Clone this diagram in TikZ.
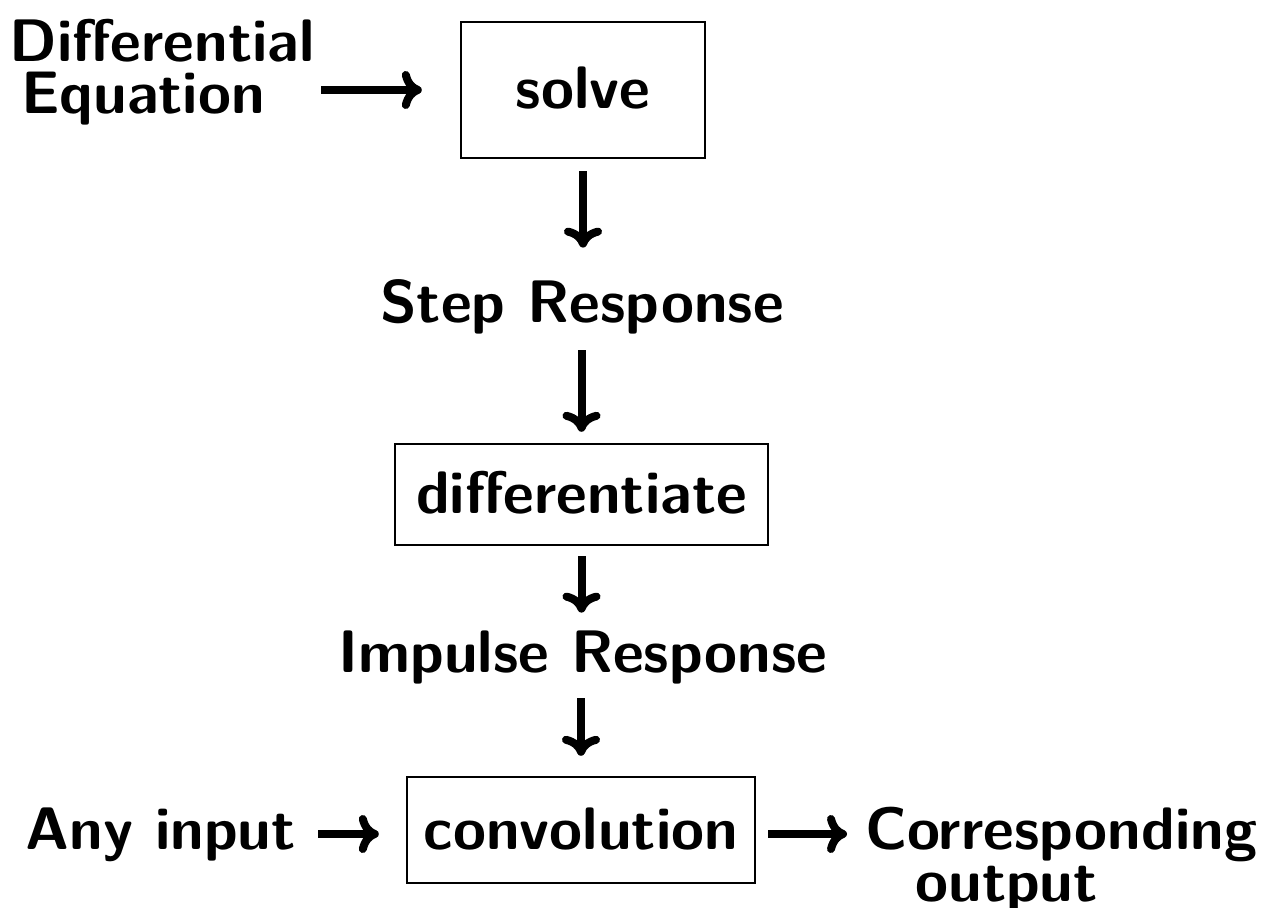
\documentclass[tikz,border=0pt]{standalone}
\usetikzlibrary{arrows.meta}
\begin{document}
\begin{tikzpicture}[x=0.5pt,y=-0.5pt,
  every node/.style={font=\sffamily\bfseries\fontsize{30}{26}\selectfont, inner sep=0pt},
  lbl/.style={text height=21pt, text depth=6pt},
  boxn/.style={draw, line width=1.2pt, text height=19pt, text depth=0pt},
  arr/.style={line width=4pt, -{Computer Modern Rightarrow[length=10pt,width=19pt]}}
]
\useasboundingbox (0,0) rectangle (1264,908);
% nodes
\node[anchor=north west, align=left] (de) at (9,18.4) {Differential\\\hspace*{6pt}Equation};
\node[boxn, minimum width=122pt, minimum height=68pt] (solve) at (583,90) {solve};
\node[lbl, anchor=base] (step) at (582,323) {Step Response};
\node[boxn, minimum width=186.5pt, minimum height=50.5pt] (diff) at (581.5,494.5) {differentiate};
\node[lbl, anchor=base] (imp) at (583,673) {Impulse Response};
\node[boxn, minimum width=174pt, minimum height=53pt] (conv) at (581,830) {convolution};
\node[lbl, anchor=base west] (any) at (25,849) {Any input};
\node[anchor=north west, align=left] (cor) at (865,806.4) {Corresponding\\\hspace*{25pt}output};
% connectors
\draw[arr, shorten <=3pt, shorten >=19pt] (de.east |- solve.west) -- (solve.west);
\draw[arr, shorten <=6pt, shorten >=16.5pt] (solve.south) -- (solve.south |- step.north);
\draw[arr, shorten <=7.5pt, shorten >=5.5pt] (diff.north |- step.south) -- (diff.north);
\draw[arr, shorten <=5pt, shorten >=9pt] (diff.south) -- (diff.south |- imp.north);
\draw[arr, shorten <=6.5pt, shorten >=10pt] (conv.north |- imp.south) -- (conv.north);
\draw[arr, shorten <=11pt, shorten >=13.5pt] (any.east) -- (any.east -| conv.west);
\draw[arr, shorten <=6pt, shorten >=9pt] (conv.east |- any.east) -- (cor.west |- any.east);
\end{tikzpicture}
\end{document}
